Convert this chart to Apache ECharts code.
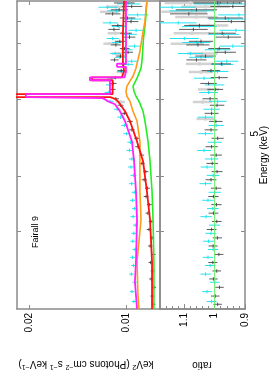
<!DOCTYPE html>
<html><head><meta charset="utf-8">
<script src="https://cdn.jsdelivr.net/npm/echarts@6/dist/echarts.min.js"></script>
<style>html,body{margin:0;padding:0;background:#fff}#c{width:273px;height:372px}</style>
</head><body><div id="c"></div>
<script>
// ---- tick values ----
const energyTicks = [3, 4, 5, 6, 7, 8, 9];
const energyLabels = [5];
const fluxTicks = [0.01, 0.02];
const ratioMajor = [0.9, 1, 1.1];
const ratioMinor = [0.92, 0.94, 0.96, 0.98, 1.02, 1.04, 1.06, 1.08, 1.12, 1.14, 1.16];

// ---- model curves: [flux, energy keV] ----
const modelGreen = [[0.00819,2.0],[0.00819,2.56],[0.00824,3.19],[0.00830,3.70],[0.00842,4.33],[0.00854,4.80],[0.00873,5.34],[0.00885,5.62],[0.00911,5.92],[0.00931,6.08],[0.00944,6.24],[0.00951,6.41],[0.00924,6.68],[0.00898,7.04],[0.00892,7.30],[0.00882,8.24],[0.00870,9.0],[0.00861,10.0]];
const modelOrange = [[0.00911,2.0],[0.00918,2.16],[0.00924,2.56],[0.00911,2.85],[0.00898,3.19],[0.00905,3.70],[0.00905,4.33],[0.00905,4.80],[0.00924,5.34],[0.00951,5.62],[0.00972,5.92],[0.00993,6.08],[0.0100,6.24],[0.00993,6.41],[0.00972,6.58],[0.00951,6.75],[0.00931,7.04],[0.00905,7.69],[0.00892,8.24],[0.00873,9.0],[0.00861,10.0]];
const modelRed = [[0.00830,2.0],[0.00830,2.56],[0.00842,3.19],[0.00861,3.70],[0.00885,4.33],[0.00924,4.80],[0.00972,5.34],[0.01007,5.62],[0.01059,5.92],[0.01082,6.0],[0.0112,6.05],[0.023,6.05],[0.023,6.15],[0.0110,6.15],[0.0110,6.61],[0.01275,6.61],[0.01275,6.71],[0.0103,6.71],[0.01029,6.75],[0.01014,6.93],[0.01022,7.30],[0.01022,8.41],[0.01014,10.0]];
const modelMagenta = [[0.00924,2.0],[0.00938,2.31],[0.00931,2.56],[0.00924,3.19],[0.00931,3.70],[0.00944,4.33],[0.00958,4.80],[0.01007,5.34],[0.01044,5.62],[0.01082,5.83],[0.01137,5.92],[0.01179,6.02],[0.0118,6.05],[0.02045,6.05],[0.02045,6.15],[0.01121,6.15],[0.01121,6.61],[0.01294,6.61],[0.01294,6.71],[0.0101,6.71],[0.01014,6.75],[0.0100,6.93],[0.0100,7.09],[0.01066,7.09],[0.01066,7.21],[0.0100,7.21],[0.0100,7.30],[0.0100,8.41],[0.0100,10.0]];

// ---- data points: [flux, energy, fluxErr] ----
const dataBlack = [[0.00822,2.05,0.00012],[0.00828,2.14,0.00012],[0.00818,2.24,0.00012],[0.00835,2.34,0.00012],[0.00826,2.44,0.00012],[0.00838,2.55,0.00013],[0.00822,2.66,0.00013],[0.00841,2.78,0.00013],[0.00830,2.90,0.00013],[0.00848,3.03,0.00014],[0.00836,3.16,0.00014],[0.00855,3.30,0.00014],[0.00846,3.45,0.00015],[0.00866,3.60,0.00015],[0.00858,3.76,0.00015],[0.00878,3.93,0.00016],[0.00868,4.10,0.00016],[0.00892,4.28,0.00017],[0.00895,4.47,0.00017],[0.00918,4.67,0.00018],[0.00925,4.88,0.00018],[0.00958,5.10,0.00019],[0.00972,5.33,0.00020],[0.01012,5.56,0.00021],[0.01040,5.80,0.00022],[0.01075,6.00,0.00024],[0.01102,6.30,0.00025],[0.01095,6.50,0.00026],[0.01080,6.70,0.00027],[0.01035,6.95,0.00028],[0.01025,7.20,0.00030],[0.01085,7.35,0.00031],[0.01040,7.50,0.00032],[0.00985,7.65,0.00034],[0.01010,7.80,0.00035],[0.01075,7.95,0.00037],[0.01045,8.10,0.00038],[0.00975,8.28,0.00040],[0.01000,8.45,0.00042],[0.01090,8.62,0.00045],[0.01060,8.80,0.00048],[0.00965,8.98,0.00050],[0.00990,9.15,0.00055],[0.01100,9.35,0.00060],[0.01050,9.55,0.00065],[0.00960,9.72,0.00070],[0.01015,9.90,0.00075]];
const dataCyan = [[0.00945,2.08,0.00015],[0.00958,2.19,0.00015],[0.00940,2.30,0.00015],[0.00962,2.40,0.00016],[0.00948,2.51,0.00016],[0.00955,2.62,0.00016],[0.00938,2.73,0.00016],[0.00952,2.85,0.00017],[0.00945,2.97,0.00017],[0.00935,3.10,0.00017],[0.00950,3.24,0.00018],[0.00940,3.38,0.00018],[0.00955,3.53,0.00018],[0.00942,3.68,0.00019],[0.00960,3.85,0.00019],[0.00948,4.02,0.00020],[0.00965,4.20,0.00020],[0.00958,4.38,0.00021],[0.00975,4.58,0.00022],[0.00968,4.78,0.00022],[0.00995,5.00,0.00023],[0.01010,5.22,0.00024],[0.01040,5.45,0.00025],[0.01065,5.68,0.00026],[0.01120,5.92,0.00028],[0.01135,6.20,0.00030],[0.01125,6.45,0.00031],[0.01110,6.68,0.00032],[0.01030,6.92,0.00034],[0.00985,7.18,0.00036],[0.00960,7.30,0.00037],[0.01045,7.45,0.00038],[0.01080,7.60,0.00040],[0.00995,7.75,0.00041],[0.00940,7.90,0.00043],[0.01060,8.05,0.00045],[0.01100,8.22,0.00048],[0.00975,8.40,0.00050],[0.00930,8.58,0.00053],[0.01050,8.75,0.00056],[0.01120,8.92,0.00060],[0.00960,9.10,0.00063],[0.00920,9.30,0.00068],[0.01070,9.50,0.00072],[0.01140,9.68,0.00078],[0.00985,9.85,0.00082]];
const dataGray = [[0.01040,5.90,0.00033],[0.01030,6.90,0.00040],[0.01055,7.60,0.00050],[0.01120,8.00,0.00055],[0.01080,8.45,0.00060],[0.01130,9.45,0.00075],[0.01075,9.70,0.00080]];

// ---- ratio points: [ratio, energy, ratioErr] ----
const ratioBlack = [[0.990,2.05,0.014],[0.998,2.14,0.014],[0.984,2.24,0.014],[1.004,2.34,0.014],[0.993,2.44,0.014],[1.006,2.55,0.015],[0.986,2.66,0.015],[1.005,2.78,0.015],[0.991,2.90,0.015],[1.010,3.03,0.016],[0.993,3.16,0.016],[1.004,3.30,0.016],[0.994,3.45,0.017],[1.004,3.60,0.017],[0.995,3.76,0.017],[1.012,3.93,0.018],[0.992,4.10,0.018],[1.008,4.28,0.019],[0.995,4.47,0.019],[1.010,4.67,0.020],[0.990,4.88,0.020],[1.012,5.10,0.021],[0.996,5.33,0.022],[1.010,5.56,0.023],[0.992,5.80,0.024],[1.015,6.00,0.025],[0.998,6.30,0.026],[1.020,6.50,0.027],[0.985,6.70,0.028],[1.012,6.95,0.030],[0.978,7.20,0.032],[1.060,7.35,0.033],[1.030,7.50,0.034],[0.965,7.65,0.035],[0.985,7.80,0.036],[1.055,7.95,0.038],[1.045,8.10,0.040],[0.955,8.28,0.042],[0.975,8.45,0.045],[1.070,8.62,0.047],[1.050,8.80,0.050],[0.945,8.98,0.054],[0.965,9.15,0.058],[1.085,9.35,0.062],[1.060,9.55,0.068],[0.940,9.72,0.074],[0.990,9.90,0.080]];
const ratioCyan = [[1.010,2.08,0.016],[1.025,2.19,0.016],[1.000,2.30,0.016],[1.030,2.40,0.017],[1.015,2.51,0.017],[1.022,2.62,0.017],[1.005,2.73,0.017],[1.020,2.85,0.018],[1.012,2.97,0.018],[1.000,3.10,0.018],[1.028,3.24,0.019],[1.006,3.38,0.019],[1.022,3.53,0.019],[1.000,3.68,0.020],[1.030,3.85,0.020],[1.005,4.02,0.021],[1.025,4.20,0.021],[1.010,4.38,0.022],[1.035,4.58,0.023],[1.000,4.78,0.023],[1.030,5.00,0.024],[0.995,5.22,0.025],[1.030,5.45,0.026],[1.010,5.68,0.027],[0.990,5.92,0.029],[1.020,6.20,0.031],[1.000,6.45,0.032],[1.035,6.68,0.033],[0.990,6.92,0.035],[0.975,7.18,0.037],[0.960,7.30,0.038],[1.045,7.45,0.039],[1.080,7.60,0.041],[0.990,7.75,0.042],[0.940,7.90,0.044],[1.060,8.05,0.046],[1.100,8.22,0.048],[0.970,8.40,0.051],[0.930,8.58,0.054],[1.050,8.75,0.057],[1.120,8.92,0.060],[0.955,9.10,0.064],[0.920,9.30,0.068],[1.075,9.50,0.073],[1.140,9.68,0.078],[0.985,9.85,0.083]];
const ratioGray = [[1.030,5.40,0.030],[1.040,5.90,0.032],[1.020,6.30,0.035],[1.045,6.90,0.040],[1.050,7.20,0.045],[1.040,7.60,0.050],[1.090,8.00,0.055],[1.075,8.45,0.060],[1.020,8.80,0.065],[1.060,9.20,0.070],[1.100,9.45,0.075],[1.030,9.70,0.080],[1.080,9.90,0.085]];
const unityLine = [[1, 2], [1, 10]];

const FRAME = '#8a8a8a';
const FONT = 'Liberation Sans, Arial, Helvetica, sans-serif';

function errRender(color, width) {
  return function (params, api) {
    const F = api.value(0), E = api.value(1), fe = api.value(2);
    const p1 = api.coord([F - fe, E]), p2 = api.coord([F + fe, E]);
    const p3 = api.coord([F, E * 0.991]), p4 = api.coord([F, E * 1.009]);
    return { type: 'group', children: [
      { type: 'line', shape: { x1: p1[0], y1: p1[1], x2: p2[0], y2: p2[1] }, style: { stroke: color, lineWidth: width } },
      { type: 'line', shape: { x1: p3[0], y1: p3[1], x2: p4[0], y2: p4[1] }, style: { stroke: color, lineWidth: width } }
    ]};
  };
}

function axis(o) {
  return Object.assign({
    splitLine: { show: false },
    axisLine: { show: true, onZero: false, lineStyle: { color: FRAME, width: 1.5 } },
    axisLabel: { show: false },
    axisTick: { show: false }
  }, o);
}
function ticks(vals, len) {
  return { show: true, inside: true, length: len, customValues: vals, lineStyle: { color: FRAME, width: 1 } };
}

const fluxX = { type: 'log', logBase: 10, min: 0.00784, max: 0.0218, inverse: true };
const ratioX = { type: 'value', min: 0.9, max: 1.18, inverse: true };
const energyY = { type: 'log', logBase: 10, min: 2, max: 10 };

const chart = echarts.init(document.getElementById('c'), null, { renderer: 'canvas' });
chart.setOption({
  animation: false,
  backgroundColor: '#fff',
  grid: [
    { left: 17, top: 1, width: 143, height: 308, outerBoundsMode: 'none' },
    { left: 160, top: 1, width: 85, height: 308, outerBoundsMode: 'none' }
  ],
  xAxis: [
    axis(Object.assign({}, fluxX, { gridIndex: 0, position: 'bottom', axisTick: ticks(fluxTicks, 4),
      axisLabel: { show: true, customValues: fluxTicks, rotate: 90, margin: 4, color: '#000', fontSize: 10, fontFamily: FONT } })),
    axis(Object.assign({}, fluxX, { gridIndex: 0, position: 'top', axisTick: ticks(fluxTicks, 4) })),
    axis(Object.assign({}, ratioX, { gridIndex: 1, position: 'bottom', axisTick: ticks(ratioMajor, 5),
      axisLabel: { show: true, customValues: ratioMajor, rotate: 90, margin: 4, color: '#000', fontSize: 10, fontFamily: FONT } })),
    axis(Object.assign({}, ratioX, { gridIndex: 1, position: 'bottom', axisTick: ticks(ratioMinor, 3) })),
    axis(Object.assign({}, ratioX, { gridIndex: 1, position: 'top', axisTick: ticks(ratioMajor, 5) })),
    axis(Object.assign({}, ratioX, { gridIndex: 1, position: 'top', axisTick: ticks(ratioMinor, 3) }))
  ],
  yAxis: [
    axis(Object.assign({}, energyY, { gridIndex: 0, position: 'left', axisTick: ticks(energyTicks, 4) })),
    axis(Object.assign({}, energyY, { gridIndex: 0, position: 'right', axisTick: ticks(energyTicks, 4) })),
    axis(Object.assign({}, energyY, { gridIndex: 1, position: 'left', axisTick: ticks(energyTicks, 4) })),
    axis(Object.assign({}, energyY, { gridIndex: 1, position: 'right', axisTick: ticks(energyTicks, 4),
      axisLabel: { show: true, customValues: energyLabels, rotate: 90, margin: 5, color: '#000', fontSize: 10, fontFamily: FONT } }))
  ],
  series: [
    { type: 'custom', xAxisIndex: 0, yAxisIndex: 0, data: dataGray, renderItem: errRender('#d2d2d2', 2.5), clip: true, z: 1 },
    { type: 'custom', xAxisIndex: 0, yAxisIndex: 0, data: dataCyan, renderItem: errRender('#22e4f0', 1), clip: true, z: 2 },
    { type: 'custom', xAxisIndex: 0, yAxisIndex: 0, data: dataBlack, renderItem: errRender('#333', 0.8), clip: true, z: 2 },
    { type: 'line', xAxisIndex: 0, yAxisIndex: 0, data: modelGreen, showSymbol: false, lineStyle: { color: '#22ee22', width: 1.6 }, z: 3 },
    { type: 'line', xAxisIndex: 0, yAxisIndex: 0, data: modelOrange, showSymbol: false, lineStyle: { color: '#ff9a1a', width: 1.6 }, z: 3 },
    { type: 'line', xAxisIndex: 0, yAxisIndex: 0, data: modelRed, showSymbol: false, lineStyle: { color: '#ff1010', width: 1.8 }, z: 3 },
    { type: 'line', xAxisIndex: 0, yAxisIndex: 0, data: modelMagenta, showSymbol: false, lineStyle: { color: '#ff22ff', width: 1.8 }, z: 4 },
    { type: 'line', xAxisIndex: 2, yAxisIndex: 2, data: unityLine, showSymbol: false, lineStyle: { color: '#66ee66', width: 1 }, z: 3 },
    { type: 'custom', xAxisIndex: 2, yAxisIndex: 2, data: ratioGray, renderItem: errRender('#d2d2d2', 2.5), clip: true, z: 1 },
    { type: 'custom', xAxisIndex: 2, yAxisIndex: 2, data: ratioCyan, renderItem: errRender('#22e4f0', 1), clip: true, z: 2 },
    { type: 'custom', xAxisIndex: 2, yAxisIndex: 2, data: ratioBlack, renderItem: errRender('#333', 0.8), clip: true, z: 2 }
  ],
  graphic: [
    { type: 'text', x: 36, y: 232, rotation: Math.PI / 2, style: { text: 'Fairall 9', fontSize: 9, fontFamily: FONT, fill: '#000', align: 'center', verticalAlign: 'middle' } },
    { type: 'text', x: 264.5, y: 155, rotation: Math.PI / 2, style: { text: 'Energy (keV)', fontSize: 10, fontFamily: FONT, fill: '#000', align: 'center', verticalAlign: 'middle' } },
    { type: 'text', x: 202, y: 365, rotation: Math.PI, style: { text: 'ratio', fontSize: 10, fontFamily: FONT, fill: '#000', align: 'center', verticalAlign: 'middle' } },
    { type: 'text', x: 86, y: 364, rotation: Math.PI, style: {
      text: '{a|keV}{s|2}{a| (Photons cm}{s|−2}{a| s}{s|−1}{a| keV}{s|−1}{a|)}',
      rich: { a: { fontSize: 10, fontFamily: FONT, fill: '#000', lineHeight: 13 }, s: { fontSize: 7, fontFamily: FONT, fill: '#000', verticalAlign: 'top', lineHeight: 13 } },
      align: 'center', verticalAlign: 'middle' } }
  ]
});
</script></body></html>
